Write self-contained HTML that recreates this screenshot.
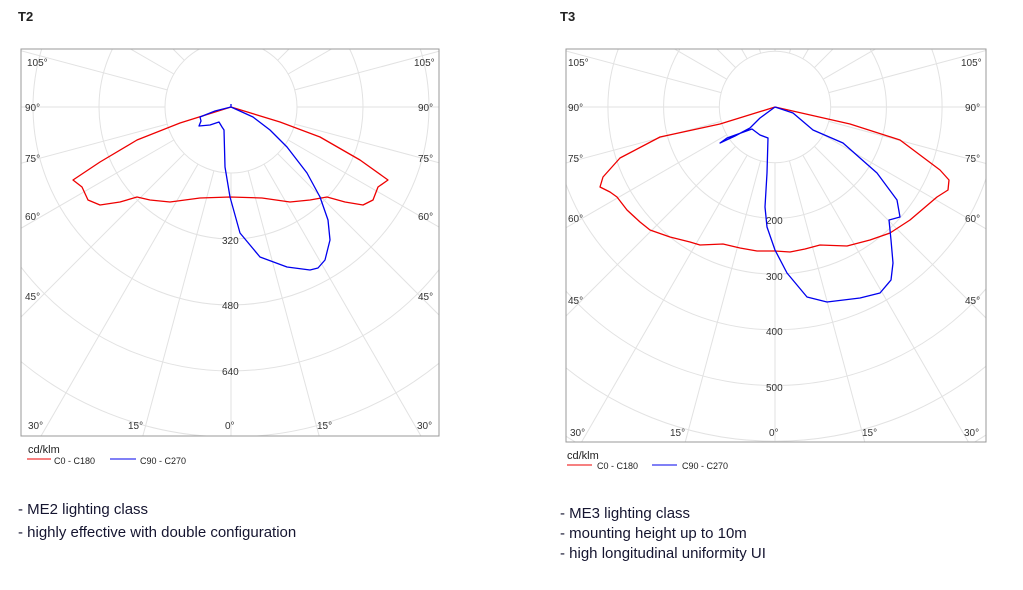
<!DOCTYPE html>
<html><head><meta charset="utf-8"><style>
html,body{margin:0;padding:0;background:#fff;width:1023px;height:590px;overflow:hidden;font-family:"Liberation Sans",sans-serif}
svg{position:absolute;left:0;top:0;display:block;overflow:hidden}
.t{font-family:"Liberation Sans",sans-serif;font-size:10px;fill:#333}
.b{font-family:"Liberation Sans",sans-serif;font-size:15px;fill:#151530}
polyline{stroke-linejoin:round}
</style></head><body>
<svg id="s" width="1023" height="590" viewBox="0 0 1023 590">
<defs>
<clipPath id="c1"><rect x="21" y="49" width="418" height="387"/></clipPath>
<clipPath id="c2"><rect x="566" y="49" width="420" height="393"/></clipPath>
</defs>
<text x="18" y="21" font-weight="bold" font-size="13" font-family="Liberation Sans" fill="#222">T2</text>
<text x="560" y="21" font-weight="bold" font-size="13" font-family="Liberation Sans" fill="#222">T3</text>
<g id="g1" clip-path="url(#c1)"></g>
<g id="g2" clip-path="url(#c2)"></g>
<rect x="21" y="49" width="418" height="387" fill="none" stroke="#999"/>
<rect x="566" y="49" width="420" height="393" fill="none" stroke="#999"/>
<g class="t">
<text x="27" y="66">105°</text><text x="25" y="111">90°</text><text x="25" y="162">75°</text><text x="25" y="220">60°</text><text x="25" y="300">45°</text><text x="28" y="429">30°</text><text x="128" y="429">15°</text><text x="225" y="429">0°</text><text x="317" y="429">15°</text><text x="417" y="429">30°</text>
<text x="414" y="66">105°</text><text x="418" y="111">90°</text><text x="418" y="162">75°</text><text x="418" y="220">60°</text><text x="418" y="300">45°</text>
<text x="222" y="244">320</text><text x="222" y="309">480</text><text x="222" y="375">640</text>
<text x="568" y="66">105°</text><text x="568" y="111">90°</text><text x="568" y="162">75°</text><text x="568" y="222">60°</text><text x="568" y="304">45°</text><text x="570" y="436">30°</text><text x="670" y="436">15°</text><text x="769" y="436">0°</text><text x="862" y="436">15°</text><text x="964" y="436">30°</text>
<text x="961" y="66">105°</text><text x="965" y="111">90°</text><text x="965" y="162">75°</text><text x="965" y="222">60°</text><text x="965" y="304">45°</text>
<text x="766" y="224">200</text><text x="766" y="280">300</text><text x="766" y="335">400</text><text x="766" y="391">500</text>
</g>
<polyline fill="none" stroke="#e00" stroke-width="1.3" points="231,107 180,123 137,140 100,162 73,180 82,187 88,200 100,205 120,202 137,197 150,200 170,202 200,198 230,197 262,198 290,202 310,200 327,197 345,202 363,205 373,200 378,187 388,180 360,160 320,137 280,122 231,107"/>
<polyline fill="none" stroke="#00e" stroke-width="1.3" points="231,104 231,107 215,111 200,117 201,121 199,126 210,125 219,122 222,127 224,130 225,167 230,197 240,233 260,257 287,267 310,270 318,268 325,260 330,240 328,220 320,197 307,173 287,147 270,130 253,117 231,107"/>
<polyline fill="none" stroke="#e00" stroke-width="1.3" points="775,107 720,124 660,137 620,158 603,177 600,187 610,192 617,197 627,210 640,222 650,230 670,237 690,242 700,245 723,244 740,248 757,251 775,251 790,252 805,249 820,245 847,246 870,240 890,233 910,220 937,197 948,190 949,180 940,170 900,140 850,124 775,107"/>
<polyline fill="none" stroke="#00e" stroke-width="1.3" points="775,107 760,118 750,128 735,136 720,143 727,138 752,129 760,135 768,138 767,173 765,207 767,227 775,250 787,273 807,297 827,302 860,298 880,293 891,280 893,263 891,240 889,220 900,217 897,200 877,173 843,143 813,130 793,113 775,107"/>
<g font-family="Liberation Sans" fill="#222">
<text x="28" y="453" font-size="11">cd/klm</text>
<text x="54" y="464" font-size="9">C0 - C180</text><text x="140" y="464" font-size="9">C90 - C270</text>
<text x="567" y="459" font-size="11">cd/klm</text>
<text x="597" y="469" font-size="9">C0 - C180</text><text x="682" y="469" font-size="9">C90 - C270</text>
</g>
<line x1="27" y1="459" x2="51" y2="459" stroke="#e00"/><line x1="110" y1="459" x2="136" y2="459" stroke="#00e"/>
<line x1="567" y1="465" x2="592" y2="465" stroke="#e00"/><line x1="652" y1="465" x2="677" y2="465" stroke="#00e"/>
<text class="b" x="18" y="514">- ME2 lighting class</text>
<text class="b" x="18" y="537">- highly effective with double configuration</text>
<text class="b" x="560" y="518">- ME3 lighting class</text>
<text class="b" x="560" y="538">- mounting height up to 10m</text>
<text class="b" x="560" y="558">- high longitudinal uniformity UI</text>
</svg>
<script>
function grid(id,cx,cy,step){
 var g=document.getElementById(id),h="";
 for(var k=1;k<=8;k++)h+='<circle cx="'+cx+'" cy="'+cy+'" r="'+(step*k)+'" fill="none" stroke="#e2e2e2" stroke-width="1"/>';
 for(var a=-180;a<=180;a+=15){var t=a*Math.PI/180,s=Math.sin(t),c=Math.cos(t);
  h+='<line x1="'+(cx+s*step)+'" y1="'+(cy+c*step)+'" x2="'+(cx+s*500)+'" y2="'+(cy+c*500)+'" stroke="#e2e2e2" stroke-width="1"/>';}
 g.innerHTML=h;
}
grid("g1",231,107,66);grid("g2",775,107,55.7);
</script>
</body></html>
